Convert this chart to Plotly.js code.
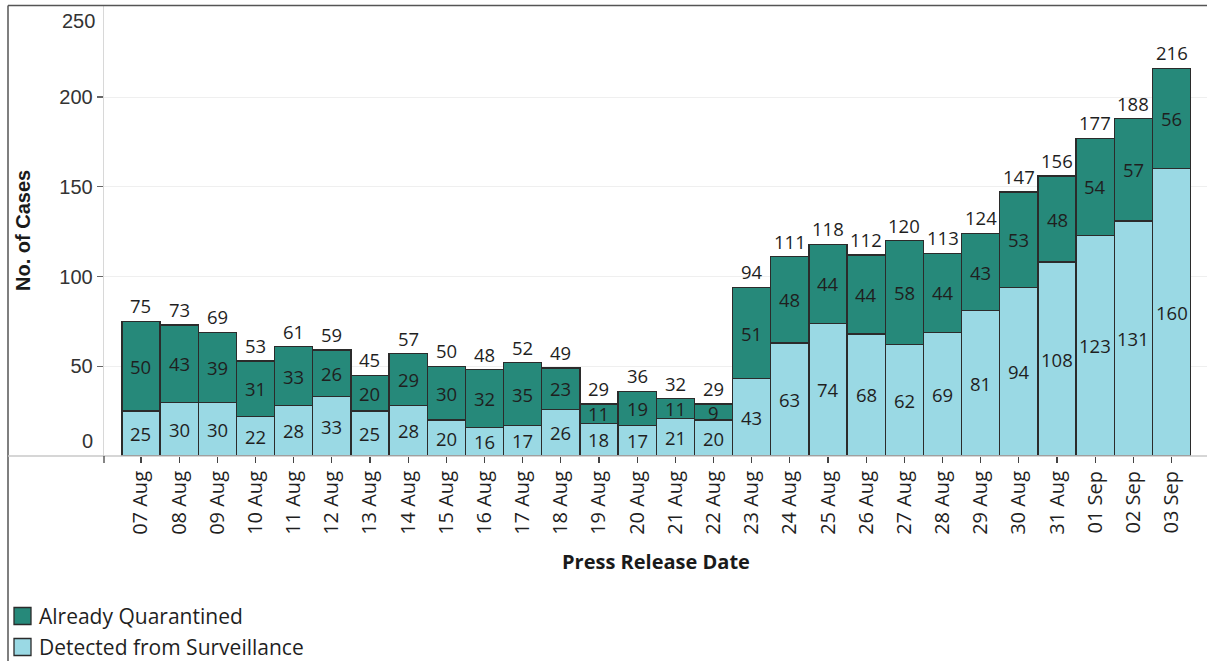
<!DOCTYPE html>
<html>
<head>
<meta charset="utf-8">
<script src="https://cdn.plot.ly/plotly-3.0.1.min.js"></script>
<style>html,body{margin:0;padding:0;background:#fff;}#chart{width:1207px;height:661px;}</style>
</head>
<body>
<div id="chart"></div>
<script>
const dates = ["07 Aug","08 Aug","09 Aug","10 Aug","11 Aug","12 Aug","13 Aug","14 Aug","15 Aug","16 Aug","17 Aug","18 Aug","19 Aug","20 Aug","21 Aug","22 Aug","23 Aug","24 Aug","25 Aug","26 Aug","27 Aug","28 Aug","29 Aug","30 Aug","31 Aug","01 Sep","02 Sep","03 Sep"];
const surveillance = [25,30,30,22,28,33,25,28,20,16,17,26,18,17,21,20,43,63,74,68,62,69,81,94,108,123,131,160];
const quarantined = [50,43,39,31,33,26,20,29,30,32,35,23,11,19,11,9,51,48,44,44,58,44,43,53,48,54,57,56];
const seriesNames = ["Already Quarantined","Detected from Surveillance"];
const seriesColors = ["#26897a","#9ad9e4"];
const yTicks = [50,100,150,200];

const W = 1207, H = 661;
const mL = 104, mR = 0, mT = 6, mB = 205;
const pw = W - mL - mR, ph = H - mT - mB;
const px = x => (x - mL) / pw;
const py = y => (H - mB - y) / ph;

const totals = surveillance.map((v,i) => v + quarantined[i]);
const font = "Open Sans, Noto Sans, sans-serif";
const arial = "Liberation Sans, Arial, sans-serif";
const txtColor = "#1f1f1f";

const traces = [
  {type:"bar", x:dates, y:surveillance, name:seriesNames[1],
   marker:{color:seriesColors[1], line:{color:"#2b2b2b", width:1.3}}, hoverinfo:"x+y+name"},
  {type:"bar", x:dates, y:quarantined, name:seriesNames[0],
   marker:{color:seriesColors[0], line:{color:"#2b2b2b", width:1.3}}, hoverinfo:"x+y+name"}
];

const ann = [];
const lblSize = 18.5;
dates.forEach((d,i) => {
  ann.push({x:d, y:surveillance[i]/2, text:String(surveillance[i]), showarrow:false, yanchor:"middle",
    font:{family:font, size:lblSize, color:txtColor}});
  ann.push({x:d, y:surveillance[i] + quarantined[i]/2, text:String(quarantined[i]), showarrow:false, yanchor:"middle",
    font:{family:font, size:lblSize, color:txtColor}});
  ann.push({x:d, y:totals[i], text:String(totals[i]), showarrow:false, yanchor:"bottom", yshift:1,
    font:{family:font, size:lblSize, color:txtColor}});
});
// extreme y labels shifted inward
ann.push({xref:"paper", yref:"paper", x:px(95), y:py(441), xanchor:"right", yanchor:"middle", text:"0", showarrow:false,
  font:{family:arial, size:20, color:"#333"}});
ann.push({xref:"paper", yref:"paper", x:px(97), y:py(21), xanchor:"right", yanchor:"middle", text:"250", showarrow:false,
  font:{family:arial, size:20, color:"#333"}});
// axis titles
ann.push({xref:"paper", yref:"paper", x:px(23), y:py(231), xanchor:"center", yanchor:"middle", text:"<b>No. of Cases</b>", textangle:-90, showarrow:false,
  font:{family:arial, size:20, color:"#1a1a1a"}});
ann.push({xref:"paper", yref:"paper", x:px(656), y:py(561), xanchor:"center", yanchor:"middle", text:"<b>Press Release Date</b>", showarrow:false,
  font:{family:font, size:20, color:"#1a1a1a"}});
// legend
const legendY = [616, 647];
const shapes = [];
seriesNames.forEach((n,i) => {
  shapes.push({type:"rect", xref:"paper", yref:"paper", x0:px(14), x1:px(31), y0:py(legendY[i]-8.5), y1:py(legendY[i]+8.5),
    fillcolor:seriesColors[i], line:{color:"#2b2b2b", width:1.3}});
  ann.push({xref:"paper", yref:"paper", x:px(37), y:py(legendY[i]), xanchor:"left", yanchor:"middle", text:n, showarrow:false,
    font:{family:font, size:21, color:txtColor}});
});
// frame lines
shapes.push({type:"line", xref:"paper", yref:"paper", x0:px(8), x1:px(W), y0:py(5.5), y1:py(5.5), line:{color:"#555", width:1.5}});
shapes.push({type:"line", xref:"paper", yref:"paper", x0:px(8), x1:px(8), y0:py(5.5), y1:py(H), line:{color:"#555", width:1.5}});
// x-axis baseline extension and left tick
shapes.push({type:"line", xref:"paper", yref:"paper", x0:px(8), x1:px(W), y0:py(456), y1:py(456), line:{color:"#c8c8c8", width:1.3}});
shapes.push({type:"line", xref:"paper", yref:"paper", x0:px(104), x1:px(104), y0:py(456), y1:py(463), line:{color:"#444", width:1.3}});

const layout = {
  width:W, height:H,
  margin:{l:mL, r:mR, t:mT, b:mB, pad:0},
  paper_bgcolor:"#fff", plot_bgcolor:"#fff",
  barmode:"stack", bargap:0,
  showlegend:false,
  xaxis:{type:"category", range:[-0.969, 27.93], tickangle:-90, ticks:"outside", ticklen:6, tickwidth:1.3,
    tickcolor:"#444", showline:false, showgrid:false, zeroline:false,
    tickfont:{family:font, size:20, color:txtColor}, fixedrange:true},
  yaxis:{range:[0, 250.7], tickvals:yTicks, ticktext:yTicks.map(String), ticks:"outside", ticklen:6, tickwidth:1.3,
    tickcolor:"#666", showline:true, linecolor:"#d8d8d8", linewidth:1.3, showgrid:true, gridcolor:"#efefef",
    zeroline:false, tickfont:{family:arial, size:20, color:"#333"}, fixedrange:true},
  annotations:ann,
  shapes:shapes
};

Plotly.newPlot("chart", traces, layout, {displayModeBar:false, staticPlot:true});
</script>
</body>
</html>
